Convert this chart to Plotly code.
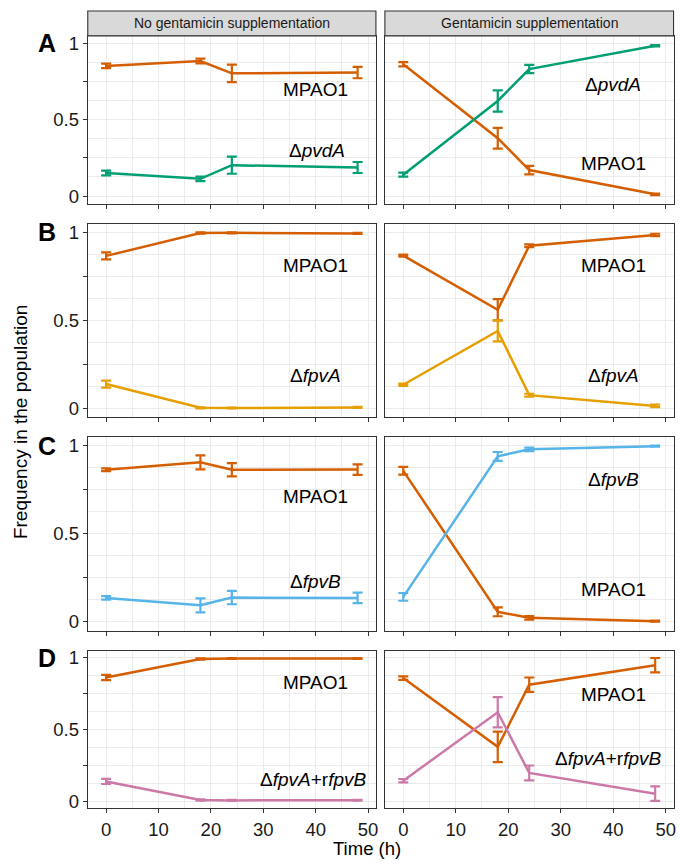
import plotly.graph_objects as go

W, H = 685, 865

# ---------------- data ----------------
time_h = [0, 18, 24, 48]
x_tick_vals = [0, 10, 20, 30, 40, 50]
y_tick_vals = [0, 0.25, 0.5, 0.75, 1]
y_tick_text = ["0", "", "0.5", "", "1"]
facet_titles = ["No gentamicin supplementation", "Gentamicin supplementation"]
row_letters = ["A", "B", "C", "D"]
wt_name = "MPAO1"
mutant_names = ["Δ<i>pvdA</i>", "Δ<i>fpvA</i>", "Δ<i>fpvB</i>", "Δ<i>fpvA</i>+r<i>fpvB</i>"]

# Row A: MPAO1 vs ΔpvdA
a_no_wt = [0.853, 0.885, 0.804, 0.809]
a_no_wt_err = [0.015, 0.015, 0.057, 0.037]
a_no_mut = [0.151, 0.113, 0.202, 0.187]
a_no_mut_err = [0.015, 0.015, 0.056, 0.036]
a_gen_wt = [0.864, 0.379, 0.170, 0.011]
a_gen_wt_err = [0.014, 0.068, 0.028, 0.005]
a_gen_mut = [0.140, 0.623, 0.832, 0.985]
a_gen_mut_err = [0.013, 0.070, 0.027, 0.005]

# Row B: MPAO1 vs ΔfpvA
b_no_wt = [0.866, 0.996, 0.997, 0.994]
b_no_wt_err = [0.020, 0.004, 0.003, 0.003]
b_no_mut = [0.138, 0.003, 0.002, 0.005]
b_no_mut_err = [0.020, 0.003, 0.002, 0.003]
b_gen_wt = [0.868, 0.560, 0.924, 0.985]
b_gen_wt_err = [0.006, 0.060, 0.008, 0.007]
b_gen_mut = [0.134, 0.440, 0.075, 0.014]
b_gen_mut_err = [0.006, 0.060, 0.008, 0.007]

# Row C: MPAO1 vs ΔfpvB
c_no_wt = [0.864, 0.906, 0.864, 0.865]
c_no_wt_err = [0.008, 0.040, 0.038, 0.030]
c_no_mut = [0.136, 0.094, 0.138, 0.136]
c_no_mut_err = [0.010, 0.040, 0.038, 0.030]
c_gen_wt = [0.858, 0.057, 0.023, 0.004]
c_gen_wt_err = [0.022, 0.025, 0.010, 0.003]
c_gen_mut = [0.142, 0.940, 0.980, 0.998]
c_gen_mut_err = [0.022, 0.025, 0.010, 0.003]

# Row D: MPAO1 vs ΔfpvA+rfpvB
d_no_wt = [0.862, 0.991, 0.995, 0.994]
d_no_wt_err = [0.018, 0.004, 0.003, 0.003]
d_no_mut = [0.138, 0.009, 0.006, 0.007]
d_no_mut_err = [0.018, 0.004, 0.003, 0.003]
d_gen_wt = [0.858, 0.379, 0.812, 0.948]
d_gen_wt_err = [0.012, 0.106, 0.050, 0.050]
d_gen_mut = [0.143, 0.620, 0.197, 0.053]
d_gen_mut_err = [0.012, 0.106, 0.052, 0.050]

# ---------------- styling / layout ----------------
wt_color = "#D55E00"
mutant_colors = ["#009E73", "#E69F00", "#56B4E9", "#CC79A7"]
border = "#333333"
grid = "#EBEBEB"
FONT = "Liberation Sans, Arial, sans-serif"

# label anchor points (time, frequency) for [row][facet] -> (wt, mutant)
label_pos = [
    [((40, 0.70), (40.3, 0.30)), ((40, 0.21), (40, 0.73))],
    [((40, 0.81), (40, 0.185)), ((40, 0.81), (40, 0.185))],
    [((40, 0.713), (40, 0.232)), ((40, 0.183), (40, 0.806))],
    [((40, 0.824), (39.5, 0.15)), ((40, 0.744), (39.2, 0.295))],
]

panels = [
    [(a_no_wt, a_no_wt_err, a_no_mut, a_no_mut_err), (a_gen_wt, a_gen_wt_err, a_gen_mut, a_gen_mut_err)],
    [(b_no_wt, b_no_wt_err, b_no_mut, b_no_mut_err), (b_gen_wt, b_gen_wt_err, b_gen_mut, b_gen_mut_err)],
    [(c_no_wt, c_no_wt_err, c_no_mut, c_no_mut_err), (c_gen_wt, c_gen_wt_err, c_gen_mut, c_gen_mut_err)],
    [(d_no_wt, d_no_wt_err, d_no_mut, d_no_mut_err), (d_gen_wt, d_gen_wt_err, d_gen_mut, d_gen_mut_err)],
]

# target positions in window pixels; the page body adds an 8 px offset
OFF = 8
col_px = [(88, 377), (386, 675.5)]
row_px = [(33, 202), (222, 417), (437, 632), (652, 811)]
strip_px = (8, 33)


def px_x(v):
    return (v - OFF) / W


def px_y(v):
    return 1 - (v - OFF) / H


fig = go.Figure()
layout = dict(
    width=W, height=H, autosize=False,
    margin=dict(l=0, r=0, t=0, b=0),
    paper_bgcolor="white", plot_bgcolor="white",
    showlegend=False,
    font=dict(family=FONT, color="black"),
)
annotations = []
shapes = []

for r in range(4):
    for c in range(2):
        k = r * 2 + c + 1
        xa = "x" if k == 1 else f"x{k}"
        ya = "y" if k == 1 else f"y{k}"
        xkey = "xaxis" if k == 1 else f"xaxis{k}"
        ykey = "yaxis" if k == 1 else f"yaxis{k}"
        wt, wt_err, mut, mut_err = panels[r][c]
        for vals, errs, color in ((wt, wt_err, wt_color), (mut, mut_err, mutant_colors[r])):
            fig.add_trace(go.Scatter(
                x=time_h, y=vals, xaxis=xa, yaxis=ya, mode="lines",
                line=dict(color=color, width=2.5),
                error_y=dict(type="data", array=errs, visible=True,
                             color=color, thickness=2.2, width=5),
                hoverinfo="skip",
            ))
        layout[xkey] = dict(
            domain=[px_x(col_px[c][0]), px_x(col_px[c][1])],
            range=[-3.5, 51.5], anchor=ya,
            tickmode="array", tickvals=x_tick_vals,
            showticklabels=(r == 3),
            ticks="outside", ticklen=4, tickwidth=1, tickcolor=border,
            tickfont=dict(size=18.5, color="#1a1a1a", family=FONT),
            showgrid=True, gridcolor=grid, gridwidth=1.1,
            minor=dict(tickvals=[5, 15, 25, 35, 45], showgrid=True,
                       gridcolor=grid, gridwidth=0.55, ticks=""),
            showline=True, mirror=True, linecolor=border, linewidth=1.1,
            zeroline=False, fixedrange=True,
        )
        layout[ykey] = dict(
            domain=[px_y(row_px[r][1]), px_y(row_px[r][0])],
            range=[-0.05, 1.05], anchor=xa,
            tickmode="array", tickvals=y_tick_vals, ticktext=y_tick_text,
            showticklabels=(c == 0),
            ticks="outside" if c == 0 else "", ticklen=4, tickwidth=1, tickcolor=border,
            tickfont=dict(size=18.5, color="#1a1a1a", family=FONT),
            showgrid=True, gridcolor=grid, gridwidth=1.1,
            minor=dict(tickvals=[0.125, 0.375, 0.625, 0.875], showgrid=True,
                       gridcolor=grid, gridwidth=0.55, ticks=""),
            showline=True, mirror=True, linecolor=border, linewidth=1.1,
            zeroline=False, fixedrange=True,
        )
        (wx, wy), (mx, my) = label_pos[r][c]
        annotations.append(dict(x=wx, y=wy, xref=xa, yref=ya, text=wt_name,
                                showarrow=False, xanchor="center", yanchor="middle",
                                font=dict(size=19, color="black", family=FONT)))
        annotations.append(dict(x=mx, y=my, xref=xa, yref=ya, text=mutant_names[r],
                                showarrow=False, xanchor="center", yanchor="middle",
                                font=dict(size=19, color="black", family=FONT)))

# facet strips
for c in range(2):
    shapes.append(dict(type="rect", xref="paper", yref="paper",
                       x0=px_x(col_px[c][0]), x1=px_x(col_px[c][1]),
                       y0=px_y(strip_px[1]), y1=px_y(strip_px[0]),
                       fillcolor="#D9D9D9", line=dict(color=border, width=1.1),
                       layer="above"))
    annotations.append(dict(x=px_x((col_px[c][0] + col_px[c][1]) / 2),
                            y=px_y((strip_px[0] + strip_px[1]) / 2),
                            xref="paper", yref="paper", text=facet_titles[c],
                            showarrow=False, xanchor="center", yanchor="middle",
                            font=dict(size=14, color="#1a1a1a", family=FONT)))

# row letters
row_letter_y = [40, 231, 446, 660]
for r in range(4):
    annotations.append(dict(x=px_x(47), y=px_y(row_letter_y[r]), xref="paper", yref="paper",
                            text=f"<b>{row_letters[r]}</b>", showarrow=False,
                            xanchor="center", yanchor="middle",
                            font=dict(size=25, color="black", family=FONT)))

# axis titles
annotations.append(dict(x=px_x(368), y=px_y(851), xref="paper", yref="paper",
                        text="Time (h)", showarrow=False, xanchor="center", yanchor="middle",
                        font=dict(size=18.5, color="black", family=FONT)))
annotations.append(dict(x=px_x(20), y=px_y(421), xref="paper", yref="paper",
                        text="Frequency in the population", textangle=-90,
                        showarrow=False, xanchor="center", yanchor="middle",
                        font=dict(size=19, color="black", family=FONT)))

layout["annotations"] = annotations
layout["shapes"] = shapes
fig.update_layout(**layout)
fig.write_html("out.html")
